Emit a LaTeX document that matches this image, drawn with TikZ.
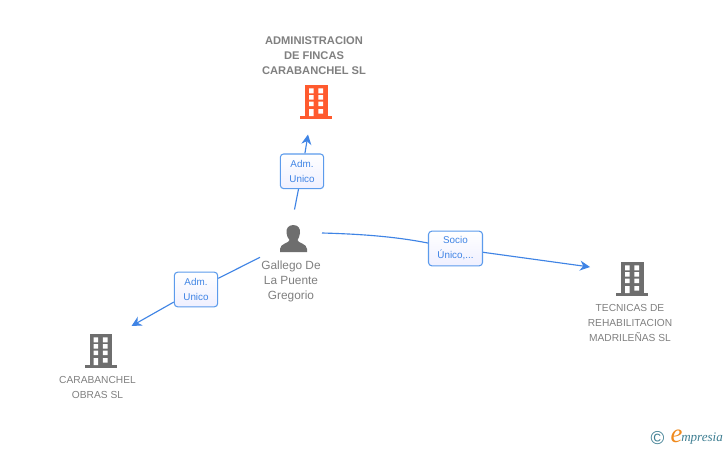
\documentclass[tikz,border=0pt]{standalone}
\usepackage{fontspec}
\setmainfont{Liberation Sans}
\newfontfamily\logofont{Liberation Serif}
\usetikzlibrary{arrows.meta,backgrounds}
\definecolor{linkblue}{HTML}{3F84E5}
\definecolor{boxblue}{HTML}{5C9BEC}
\definecolor{txtgrey}{HTML}{808080}
\definecolor{icongrey}{HTML}{6E6E6E}
\definecolor{iconred}{HTML}{FF5A2E}
\definecolor{logoteal}{HTML}{3F7F93}
\definecolor{logoorange}{HTML}{F08A1D}
\tikzset{
 x=0.75pt,y=-0.75pt,
 edgelab/.style={draw=boxblue,line width=0.8pt,rounded corners=2.5pt,top color=white,bottom color=white!94!blue,text=linkblue,
   font=\fontsize{7.4pt}{11.25pt}\selectfont,align=center,inner sep=0pt,minimum height=26pt,anchor=center},
 link/.style={linkblue,line width=0.85pt},
 linkarrow/.style={link,-{Stealth[length=7.5pt,width=7.5pt]}},
 firmname/.style={text=txtgrey,font=\fontsize{7.65pt}{11.25pt}\selectfont,align=center,inner sep=0pt},
 mainname/.style={text=txtgrey,font=\bfseries\fontsize{8.35pt}{11.25pt}\selectfont,align=center,inner sep=0pt},
 personname/.style={text=txtgrey,font=\fontsize{8.9pt}{11.25pt}\selectfont,align=center,inner sep=0pt},
 pics/building/.style={code={
   \fill[#1] (-11,0) rectangle (11.5,31);
   \fill[#1] (-16,31) rectangle (16,33.5);
   \fill[white] (-7,3.3) rectangle (-2.3,8.3) (2.3,3.3) rectangle (7,8.3)
                (-7,10) rectangle (-2.3,14.5) (2.3,10) rectangle (7,14.5)
                (-7,16.5) rectangle (-2.3,21) (2.3,16.5) rectangle (7,21)
                (-7,24) rectangle (-2.3,31) (2.3,24) rectangle (7,28.5);
 }},
}
\begin{document}
\begin{tikzpicture}
\useasboundingbox (0,0) rectangle (728,450);
% icons
\pic at (316,85) {building=iconred};
\pic at (100.5,334) {building=icongrey};
\pic at (632,262) {building=icongrey};
\fill[icongrey] (293.3,225) .. controls (298.5,225) and (300.5,229) .. (300,233)
  .. controls (299.7,236) and (298.5,238.5) .. (297.5,240)
  .. controls (297.5,243) and (307,243.5) .. (307,249) -- (307,252) -- (280,252) -- (280,249)
  .. controls (280,243.5) and (289.5,243) .. (289.5,240)
  .. controls (288,238.5) and (286.8,236) .. (286.5,233)
  .. controls (286,229) and (288,225) .. (293.3,225) -- cycle;
% names
\node[mainname] (main) at (314,56) {ADMINISTRACION\\DE FINCAS\\CARABANCHEL SL};
\node[personname] (person) at (291,281) {Gallego De\\La Puente\\Gregorio};
\node[firmname] (firmleft) at (97.5,387.5) {CARABANCHEL\\OBRAS SL};
\node[firmname] (firmright) at (630,323) {TECNICAS DE\\REHABILITACION\\MADRILEÑAS SL};
% edge labels
\node[edgelab,minimum width=32.5pt] (lab1) at (302,171.3) {Adm.\\Unico};
\node[edgelab,minimum width=32.5pt] (lab2) at (196,289.5) {Adm.\\Unico};
\node[edgelab,minimum width=40.5pt] (lab3) at (455.5,248.5) {Socio\\Único,...};
% connector free ends
\coordinate (s1) at (294.5,209.5);
\coordinate (e1) at (308,134.5);
\coordinate (s2) at (260,257.3);
\coordinate (e2) at (131.5,326);
\coordinate (s3) at (322,233);
\coordinate (e3) at (590,267);
\begin{scope}[on background layer]
\fill[white] (0,0) rectangle (728,450);
\draw[link] (s1) -- (lab1);
\draw[linkarrow] (lab1) -- (e1);
\draw[link] (s2) -- (lab2);
\draw[linkarrow] (lab2) -- (e2);
\draw[link] (s3) .. controls (360,234) and (395,236.5) .. (lab3);
\draw[linkarrow] (lab3) -- (e3);
\end{scope}
% logo
\node[text=logoteal,font=\fontsize{14pt}{14pt}\selectfont,inner sep=0pt] (copyr) at (657.5,438.5) {©};
\node[text=logoorange,font=\logofont\itshape\fontsize{20pt}{20pt}\selectfont,inner sep=0pt] (logoe) at (676.5,436) {e};
\node[text=logoteal,font=\logofont\itshape\fontsize{9.8pt}{10pt}\selectfont,inner sep=0pt,anchor=west] (logotxt) at (681,439) {mpresia};
\end{tikzpicture}
\end{document}
